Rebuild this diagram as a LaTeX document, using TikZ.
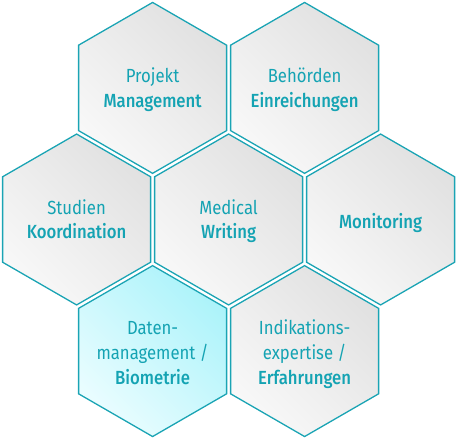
\documentclass[tikz,border=0pt]{standalone}
\usepackage{fontspec}
\setmainfont{Fira Sans}[FakeStretch=0.88, BoldFont={Fira Sans Medium}]
\definecolor{hexline}{HTML}{1AA4B4}
\definecolor{hextext}{HTML}{14A3B3}
\definecolor{graydark}{HTML}{E1E1E1}
\definecolor{graylight}{HTML}{F8F8F8}
\definecolor{cyandark}{HTML}{ACF3FA}
\definecolor{cyanlight}{HTML}{EAFDFF}
\tikzset{
  x=1pt, y=1pt,
  hexgray/.style={draw=hexline, line width=1.3pt, line join=miter,
    left color=graylight, right color=graydark, shading angle=135},
  hexcyan/.style={draw=hexline, line width=1.3pt, line join=miter,
    left color=cyanlight, right color=cyandark, shading angle=135},
  reg/.style={text=hextext, font=\fontsize{19}{22}\selectfont, inner sep=0pt, anchor=base},
  bld/.style={reg, font=\fontsize{19}{22}\selectfont\bfseries},
}
% #1 name, #2 cx, #3 cy (image coords, y down), #4 style
\newcommand\hexcell[4]{%
  \coordinate (#1) at (#2,-#3);
  \path[#4] (#1) ++(0,85.45) -- ++(74,-42.725) -- ++(0,-85.45)
    -- ++(-74,-42.725) -- ++(-74,42.725) -- ++(0,85.45) -- cycle;
}
\begin{document}
\begin{tikzpicture}
\useasboundingbox (0,0) rectangle (456,-438);
\hexcell{pm}{152.6}{87.9}{hexgray}
\hexcell{be}{304.6}{87.9}{hexgray}
\hexcell{st}{76.6}{219.5}{hexgray}
\hexcell{mw}{228.6}{219.5}{hexgray}
\hexcell{mo}{380.6}{219.5}{hexgray}
\hexcell{da}{152.6}{351.1}{hexcyan}
\hexcell{in}{304.6}{351.1}{hexgray}
% texts (baselines)
\node[reg] (pm1) at (152.6,-82.7) {Projekt};
\node[bld] (pm2) at (152.6,-107.3) {Management};
\node[reg] (be1) at (304.6,-82.7) {Behörden};
\node[bld] (be2) at (304.6,-107.3) {Einreichungen};
\node[reg] (st1) at (76.6,-214.3) {Studien};
\node[bld] (st2) at (76.6,-238.9) {Koordination};
\node[reg] (mw1) at (228.6,-214.3) {Medical};
\node[bld] (mw2) at (228.6,-238.9) {Writing};
\node[bld] (mo1) at (380.6,-228.3) {Monitoring};
\node[reg] (da1) at (152.6,-334.5) {Daten-};
\node[reg] (da2) at (152.6,-359.2) {management /};
\node[bld] (da3) at (152.6,-384.3) {Biometrie};
\node[reg] (in1) at (304.6,-334.5) {Indikations-};
\node[reg] (in2) at (304.6,-359.2) {expertise /};
\node[bld] (in3) at (304.6,-384.3) {Erfahrungen};
\end{tikzpicture}
\end{document}
